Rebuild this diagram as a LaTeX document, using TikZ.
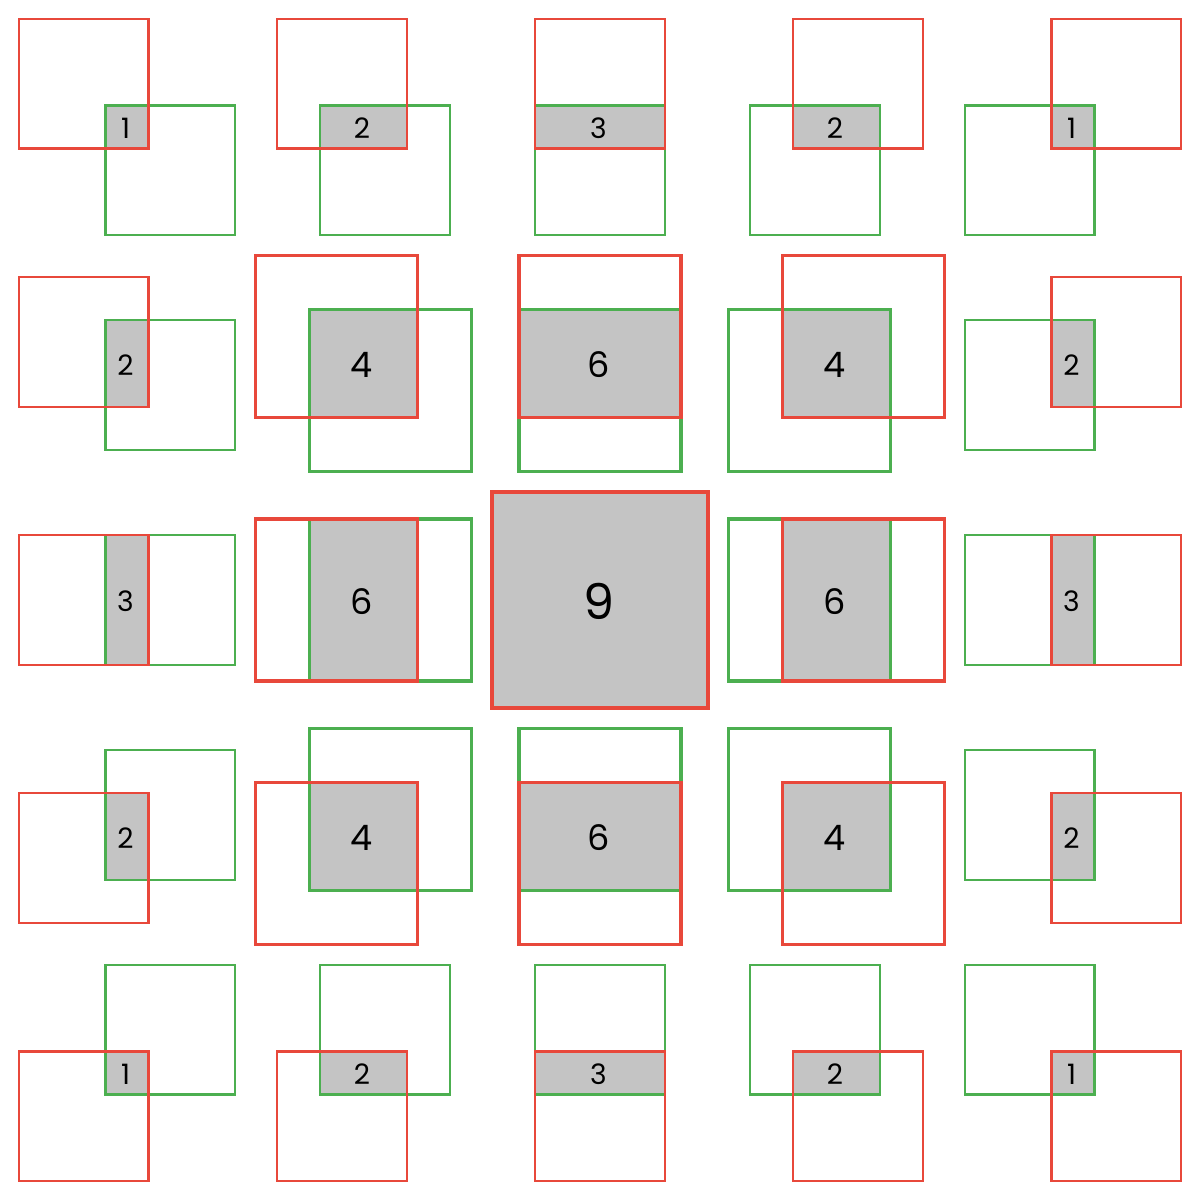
\documentclass[tikz,border=0pt]{standalone}
\usepackage{fontspec}
\setmainfont{Poppins}
\definecolor{rd}{HTML}{E8483B}
\definecolor{gn}{HTML}{4CAF50}
\definecolor{gy}{HTML}{C4C4C4}
\tikzset{
  overlapbox/.style={fill=gy},
  greensq/.style={draw=gn},
  redsq/.style={draw=rd},
  arealabel/.style={inner sep=0pt, text=black}
}
\begin{document}
\begin{tikzpicture}[x=0.02cm,y=-0.02cm]
\useasboundingbox (0,0) rectangle (1200,1200);
\foreach \r in {1,...,5}{
 \foreach \c in {1,...,5}{
  \pgfmathtruncatemacro\dx{3-\c}
  \pgfmathtruncatemacro\dy{3-\r}
  \pgfmathtruncatemacro\m{max(abs(\dx),abs(\dy))}
  \pgfmathsetmacro\s{216/(3+\m)}
  \pgfmathsetmacro\cx{127+236.5*(\c-1)}
  \pgfmathsetmacro\cy{127+236.5*(\r-1)}
  \pgfmathsetmacro\ox{\cx-\s*(1.5+\dx/2)}
  \pgfmathsetmacro\oy{\cy-\s*(1.5+\dy/2)}
  \pgfmathsetmacro\gx{\ox+\s*\dx}
  \pgfmathsetmacro\gy{\oy+\s*\dy}
  \pgfmathsetmacro\side{3*\s}
  \pgfmathsetmacro\ax{\ox+\s*max(0,\dx)}
  \pgfmathsetmacro\bx{\ox+\s*min(3,3+\dx)}
  \pgfmathsetmacro\ay{\oy+\s*max(0,\dy)}
  \pgfmathsetmacro\by{\oy+\s*min(3,3+\dy)}
  \pgfmathsetmacro\mx{(\ax+\bx)/2-1.5}
  \pgfmathsetmacro\my{(\ay+\by)/2+1.5}
  \pgfmathtruncatemacro\area{(3-abs(\dx))*(3-abs(\dy))}
  \pgfmathsetmacro\lw{\m==2 ? 1.3 : (\m==1 ? 1.85 : 2.8)}
  \pgfmathtruncatemacro\fs{\m==2 ? 16 : (\m==1 ? 20 : 28)}
  \fill[overlapbox] (\ax,\ay) rectangle (\bx,\by);
  \draw[greensq, line width=\lw pt] (\gx,\gy) rectangle +(\side,\side);
  \draw[redsq, line width=\lw pt] (\ox,\oy) rectangle +(\side,\side);
  \node[arealabel, font=\fontsize{\fs}{\fs}\selectfont] (l\r\c) at (\mx,\my) {\area};
 }
}
\end{tikzpicture}
\end{document}
